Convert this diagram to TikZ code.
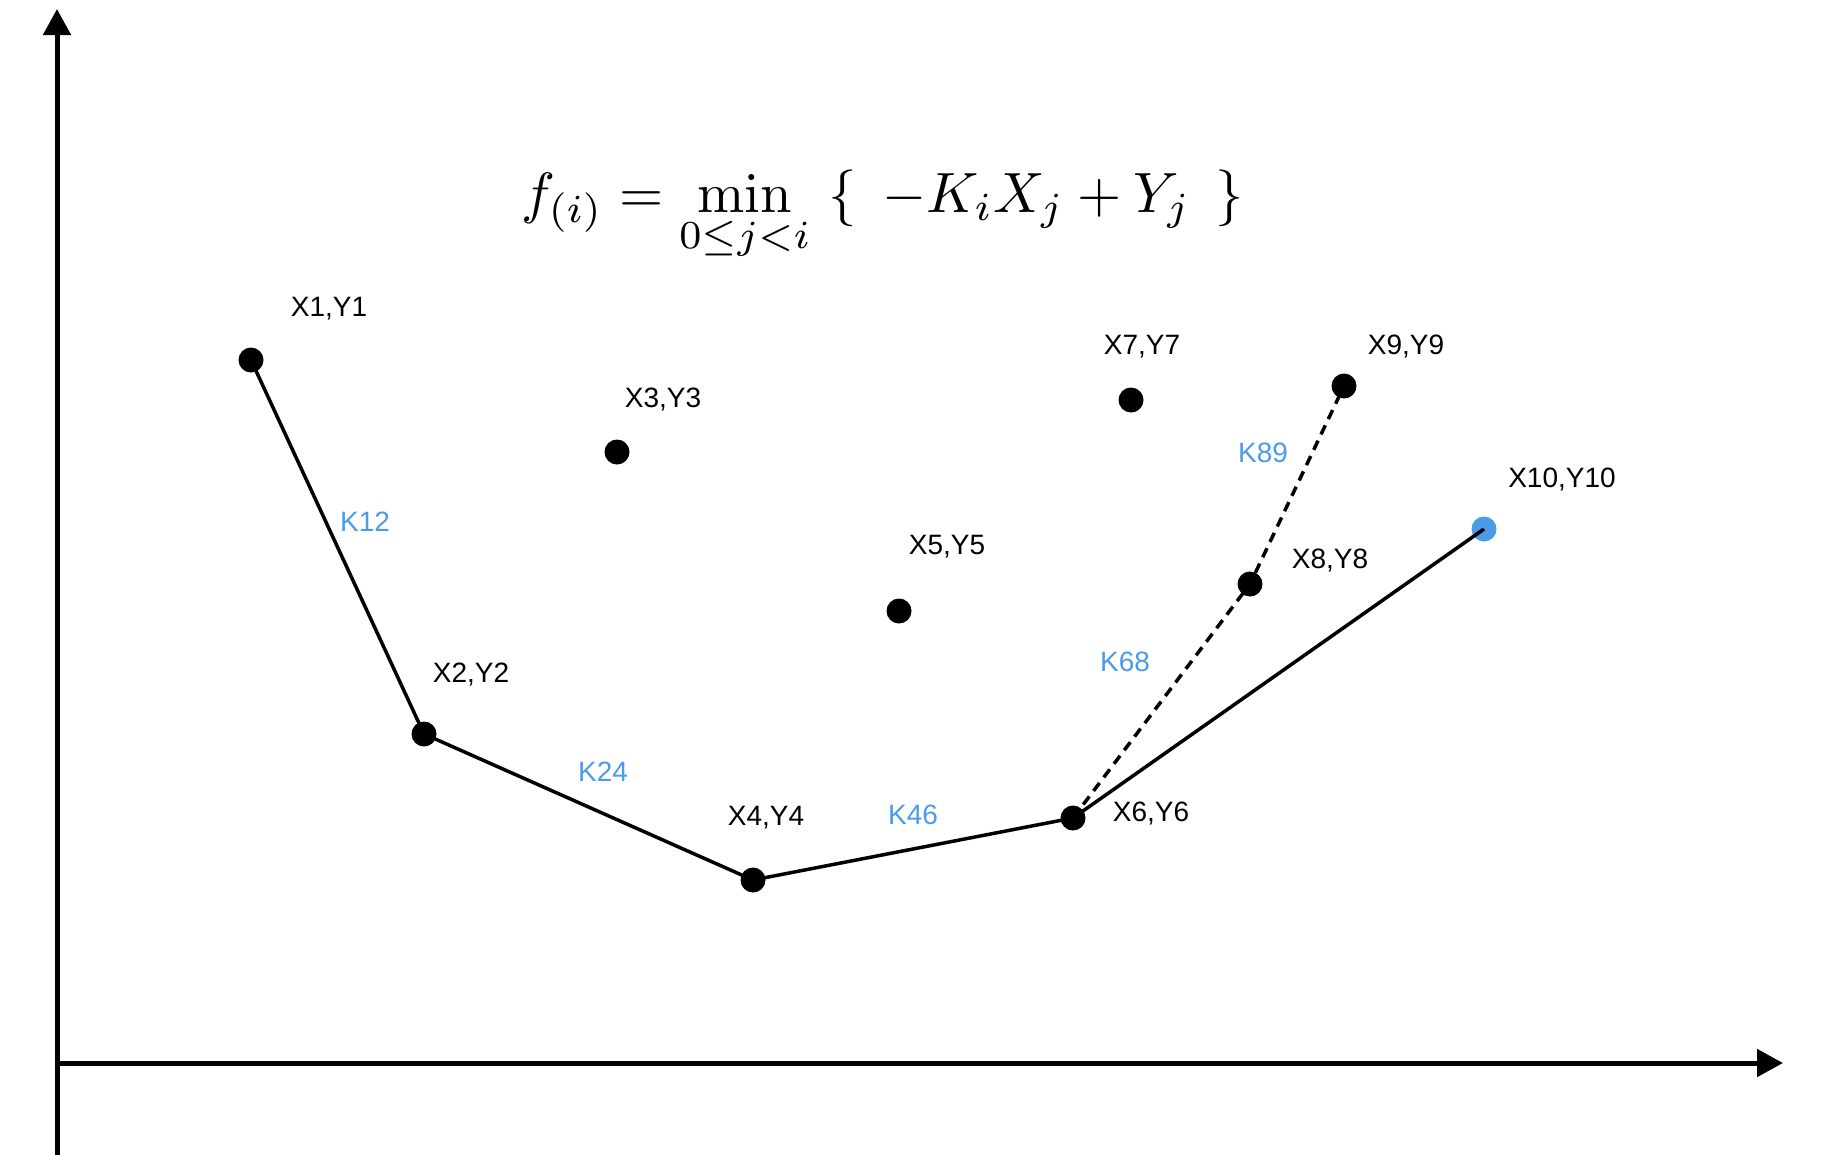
\documentclass[tikz,border=0pt]{standalone}
\usepackage[no-math]{fontspec}
\usepackage{graphicx}
\newfontfamily\labfont{Liberation Sans}
\usetikzlibrary{arrows.meta}
\definecolor{kblue}{RGB}{74,155,232}
\tikzset{
  pt/.style={circle,fill=black,inner sep=0pt,minimum size=25pt},
  bluept/.style={circle,fill=kblue,inner sep=0pt,minimum size=25pt},
  lab/.style={inner sep=0pt,font=\labfont\fontsize{28}{30}\selectfont},
  klab/.style={lab,text=kblue},
  seg/.style={line width=3.5pt},
  dseg/.style={line width=3.5pt,dash pattern=on 10pt off 7pt},
  axis/.style={line width=5pt,-{Triangle[width=27pt,length=26pt]}}
}
\begin{document}
\begin{tikzpicture}[x=1pt,y=-1pt]
\fill[white] (0,0) rectangle (1828,1154);
\useasboundingbox (0,0) rectangle (1828,1154);
% axes
\coordinate (ybot) at (57,1160);
\coordinate (ytop) at (57,9);
\coordinate (xl) at (55,1063);
\coordinate (xr) at (1783,1063);
\draw[axis] (ybot) -- (ytop);
\draw[axis] (xl) -- (xr);
% formula
\node[inner sep=0pt,anchor=base west] (f) at (521,212)
 {\resizebox{723pt}{!}{$\displaystyle f_{(i)} = \min\limits_{0\le j<i}\ \{\;\, -K_iX_j + Y_j\;\, \}$}};
% points
\node[pt] (p1) at (251,360) {};
\node[pt] (p2) at (424,734) {};
\node[pt] (p3) at (617,452) {};
\node[pt] (p4) at (753,880) {};
\node[pt] (p5) at (899,611) {};
\node[pt] (p6) at (1073,818) {};
\node[pt] (p7) at (1131,400) {};
\node[pt] (p8) at (1250,584) {};
\node[pt] (p9) at (1344,386) {};
\node[bluept] (p10) at (1484,529) {};
% segments
\draw[seg] (p1.center) -- (p2.center) -- (p4.center) -- (p6.center) -- (p10.center);
\draw[dseg] (p6.center) -- (p8.center) -- (p9.center);
% labels
\node[lab] (l1) at (329,309) {X1,Y1};
\node[lab] (l2) at (471,675) {X2,Y2};
\node[lab] (l3) at (663,400) {X3,Y3};
\node[lab] (l4) at (766,818) {X4,Y4};
\node[lab] (l5) at (947,547) {X5,Y5};
\node[lab] (l6) at (1151,814) {X6,Y6};
\node[lab] (l7) at (1142,347) {X7,Y7};
\node[lab] (l8) at (1330,561) {X8,Y8};
\node[lab] (l9) at (1406,347) {X9,Y9};
\node[lab] (l10) at (1562,480) {X10,Y10};
\node[klab] (k12) at (365,522) {K12};
\node[klab] (k24) at (603,772) {K24};
\node[klab] (k46) at (913,815) {K46};
\node[klab] (k68) at (1125,662) {K68};
\node[klab] (k89) at (1263,453) {K89};
\end{tikzpicture}
\end{document}
